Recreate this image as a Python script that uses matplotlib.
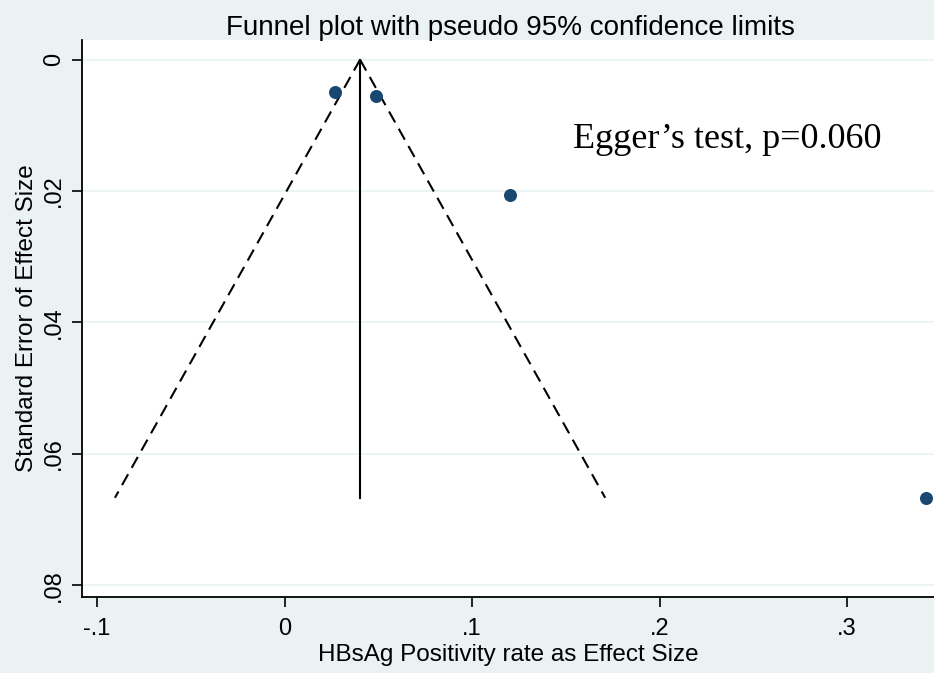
import matplotlib.pyplot as plt
import numpy as np

# study estimates
effect = [0.027, 0.049, 0.120, 0.342]
se = [0.0049, 0.0056, 0.0206, 0.0667]
pooled = 0.0403
se_max = 0.0667

xticks = [-0.1, 0, 0.1, 0.2, 0.3]
xtick_labels = ["-.1", "0", ".1", ".2", ".3"]
yticks = [0, 0.02, 0.04, 0.06, 0.08]
ytick_labels = ["0", ".02", ".04", ".06", ".08"]

bg = "#eaf2f3"
navy = "#1a476f"

plt.rcParams['font.family'] = ['Liberation Sans', 'DejaVu Sans']

fig = plt.figure(figsize=(9.34, 6.73), dpi=100, facecolor=bg)
ax = fig.add_axes([0.0878, 0.113, 0.9122, 0.8276])
ax.set_facecolor("white")

ax.set_xlim(-0.108, 0.3464)
ax.set_ylim(0.0818, -0.003)

for yv in yticks:
    ax.axhline(yv, color=bg, linewidth=1.2, zorder=0)

# funnel limits
se_line = np.array([0, se_max])
ax.plot(pooled - 1.96 * se_line, se_line, color="black", linestyle=(0, (6, 3.5)), linewidth=1.5)
ax.plot(pooled + 1.96 * se_line, se_line, color="black", linestyle=(0, (6, 3.5)), linewidth=1.5)
ax.plot([pooled, pooled], [0, se_max], color="black", linewidth=1.5)

ax.scatter(effect, se, s=70, color=navy, zorder=3, clip_on=False)

ax.text(0.236, 0.0122, "Egger\u2019s test, p=0.060", family=['Liberation Serif', 'DejaVu Serif'],
        fontsize=26, ha="center", va="center")

ax.set_xticks(xticks)
ax.set_xticklabels(xtick_labels, fontsize=17)
ax.set_yticks(yticks)
ax.set_yticklabels(ytick_labels, fontsize=17, rotation=90, va="center")
ax.tick_params(direction="out", length=7, width=1.2, color="black")
ax.tick_params(axis="x", pad=8)
ax.tick_params(axis="y", pad=5)

for s in ["top", "right"]:
    ax.spines[s].set_visible(False)
ax.spines["left"].set_linewidth(1.3)
ax.spines["bottom"].set_linewidth(1.3)

ax.set_xlabel("HBsAg Positivity rate as Effect Size", fontsize=17.5, labelpad=3)
ax.set_ylabel("Standard Error of Effect Size", fontsize=17.5, labelpad=4)
fig.text(0.546, 0.959, "Funnel plot with pseudo 95% confidence limits", fontsize=20,
         ha="center", va="center")

fig.savefig("out.png", dpi=100, facecolor=bg)
